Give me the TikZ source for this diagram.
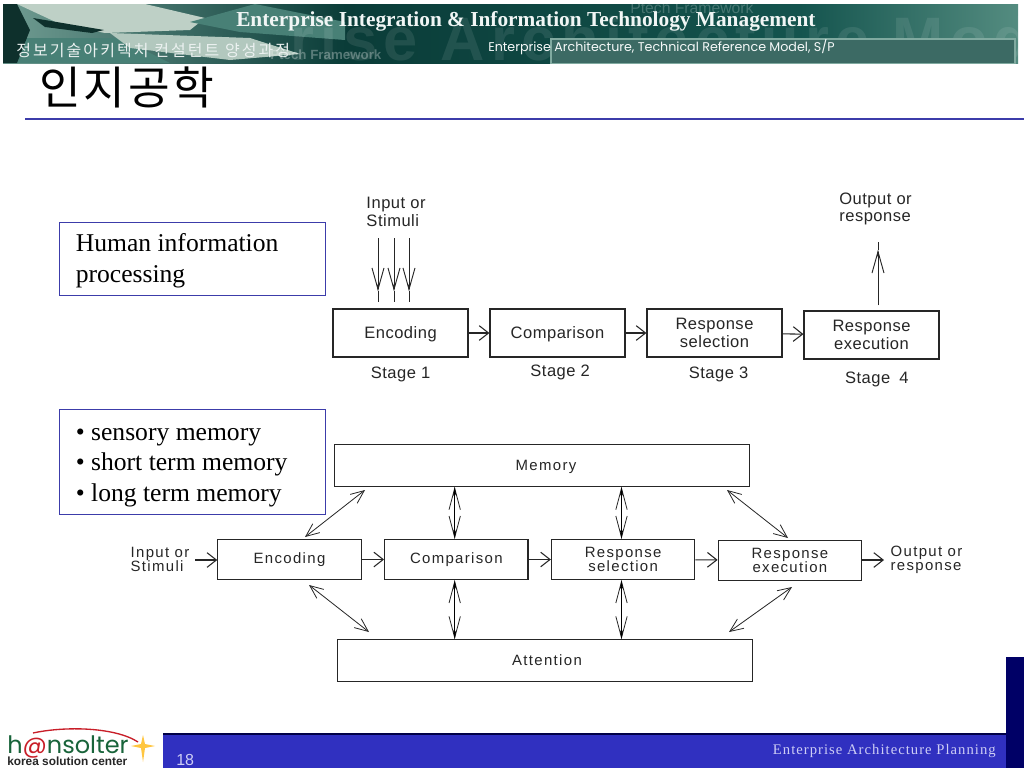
\documentclass[tikz,border=0pt]{standalone}
\usepackage{fontspec}
\setmainfont{Liberation Sans}
\newfontfamily\serifface{Liberation Serif}
\newfontfamily\kor{Noto Sans CJK KR}
\newfontfamily\roundface{Poppins}
\usetikzlibrary{arrows.meta,positioning}
\definecolor{inkgray}{RGB}{38,38,38}
\definecolor{bandblue}{RGB}{48,48,192}
\definecolor{navy}{RGB}{0,0,102}
\definecolor{framed}{RGB}{60,60,170}
\definecolor{tealdark}{RGB}{10,60,56}
\definecolor{tealmid}{RGB}{20,84,78}
\definecolor{teallight}{RGB}{84,140,128}
\definecolor{panel}{RGB}{60,106,100}
\definecolor{panelline}{RGB}{128,170,160}
\definecolor{scenepale}{RGB}{190,208,198}
\definecolor{scenemid}{RGB}{112,156,146}
\definecolor{scenelow}{RGB}{72,128,118}
\definecolor{scenedark}{RGB}{14,48,44}
\definecolor{lavender}{RGB}{205,205,245}
\definecolor{logogreen}{RGB}{24,100,58}
\definecolor{logored}{RGB}{200,30,40}
\tikzset{
  stagebox/.style={draw=inkgray, fill=white, line width=0.9pt, align=center, inner sep=0pt,
    minimum width=101.25pt, minimum height=36pt, text=inkgray,
    execute at begin node=\rule{0pt}{11.5pt},
    font=\fontsize{12.4}{13}\selectfont\addfontfeatures{LetterSpace=3}},
  flowbox/.style={draw=inkgray, fill=white, line width=0.9pt, align=center, inner sep=0pt,
    minimum width=107.5pt, minimum height=30pt, text=inkgray,
    font=\fontsize{11.2}{10.8}\selectfont\addfontfeatures{LetterSpace=9}},
  bigbox/.style={draw=inkgray, fill=white, line width=0.9pt, inner sep=0pt,
    minimum width=311pt, minimum height=31pt, text=inkgray, text height=8pt, text depth=0pt,
    font=\fontsize{11.2}{11}\selectfont\addfontfeatures{LetterSpace=9}},
  notebox/.style={draw=framed, line width=0.7pt, inner sep=0pt, minimum width=199.5pt},
  notetext/.style={anchor=west, inner sep=0pt, align=left, text=black,
    font=\serifface\fontsize{19.2}{23}\selectfont},
  label/.style={inner sep=0pt, align=left, text=inkgray,
    font=\fontsize{12.4}{13}\selectfont\addfontfeatures{LetterSpace=3}},
  smalllabel/.style={inner sep=0pt, align=left, text=inkgray,
    font=\fontsize{11.2}{10.6}\selectfont\addfontfeatures{LetterSpace=9}},
  banner/.style={anchor=base west, inner sep=0pt},
  arrow/.style={-{Straight Barb[length=7pt,width=11pt]}, line width=0.8pt, draw=inkgray},
  dart/.style={-{Stealth[length=6pt,width=2.5pt]}, line width=0.7pt, draw=inkgray},
  longarrow/.style={-{Straight Barb[length=16pt,width=9pt]}, line width=0.7pt, draw=inkgray},
  twoway/.style={{Straight Barb[length=10pt,width=8.5pt]}-{Straight Barb[length=10pt,width=8.5pt]},
    line width=0.6pt, draw=inkgray},
  updown/.style={{Stealth[length=7pt,width=2.5pt]}-{Stealth[length=7pt,width=2.5pt]}, line width=0.7pt, draw=black},
  updownbarb/.style={{Straight Barb[length=16pt,width=8.5pt]}-{Straight Barb[length=16pt,width=8.5pt]},
    line width=0.6pt, draw=inkgray}
}

\begin{document}
\begin{tikzpicture}[x=0.75pt,y=-0.75pt,node distance=15.6pt and 15.6pt]
  \useasboundingbox (0,0) rectangle (1024,768);
  \fill[white] (0,0) rectangle (1024,768);

  \begin{scope}
    \clip (3,4) rectangle (1018,63);
    \shade[left color=scenemid, right color=tealdark] (3,4) rectangle (345,63);
    \shade[left color=tealdark, right color=tealmid] (345,4) rectangle (800,63);
    \shade[left color=tealmid, right color=teallight] (800,4) rectangle (1018,63);
    \fill[scenelow] (17,38) -- (120,38) -- (170,63) -- (17,63) -- cycle;
    \fill[scenepale] (17,4) -- (145,4) -- (205,18) -- (190,30) -- (105,33) -- (60,24) -- cycle;
    \fill[scenedark] (33,18) -- (104,30) -- (92,33) -- (45,27) -- cycle;
    \fill[scenedark] (3,4) -- (17,4) -- (30,30) -- (17,63) -- (3,63) -- cycle;
    \fill[scenelow] (190,22) -- (255,4) -- (345,22) -- (345,40) -- (240,32) -- cycle;
    \fill[scenepale!85!scenemid] (110,33) -- (250,38) -- (300,54) -- (230,60) -- (130,48) -- cycle;
    \node[banner, text=white, text opacity=0.09, font=\bfseries\fontsize{46}{46}\selectfont\addfontfeatures{LetterSpace=10}] (ghosttext)
      at (290,60) {rise Architecture Mod};
    \node[banner, text=white, text opacity=0.22, font=\fontsize{11.8}{12}\selectfont] (ptechtop)
      at (630,13) {Ptech Framework};
    \node[banner, text=white, text opacity=0.3, font=\bfseries\fontsize{10}{11}\selectfont] (ptechlow)
      at (270,59) {Ptech Framework};
    \draw[panelline, line width=0.9pt, fill=panel] (551,39) rectangle (1015,64);
  \end{scope}
  \node[banner, text=white!92!teallight, font=\serifface\bfseries\fontsize{16}{17}\selectfont] (heading)
    at (236,26) {Enterprise Integration \& Information Technology Management};
  \node[banner, text=white!88!teallight, font=\kor\fontsize{12}{13}\selectfont\addfontfeatures{LetterSpace=13}] (course)
    at (16,56) {정보기술아키텍처 컨설턴트 양성과정};
  \node[banner, text=white!95!teallight, font=\roundface\fontsize{9.5}{10}\selectfont] (subject)
    at (488,51) {Enterprise Architecture, Technical Reference Model, S/P};
  \node[banner, text=black, font=\kor\fontsize{34}{36}\selectfont\addfontfeatures{LetterSpace=6}] (title)
    at (39,104) {인지공학};
  \draw[framed, line width=0.8pt] (25,119) -- (1024,119);

  \node[notebox, minimum height=54.75pt] (human) at (192,258.5) {};
  \node[notetext, right=12.75pt of human.west, yshift=-1.5pt] (humantext) {Human information\\processing};
  \node[notebox, minimum height=78.75pt] (memlist) at (192,461.5) {};
  \node[notetext, right=12.75pt of memlist.west, yshift=-4.5pt] (memtext)
    {• sensory memory\\• short term memory\\• long term memory};

  \node[stagebox] (encodeA) at (400.5,333) {Encoding};
  \node[stagebox, right=of encodeA] (compareA) {Comparison};
  \node[stagebox, right=of compareA] (selectA) {Response\\selection};
  \node[stagebox, right=of selectA, yshift=-1.5pt] (executeA) {Response\\execution};
  \node[label, below=6.5pt of encodeA] (stageone) {Stage 1};
  \node[label, below=5.5pt of compareA, xshift=2pt] (stagetwo) {Stage 2};
  \node[label, below=6.5pt of selectA, xshift=3pt] (stagethree) {Stage 3};
  \node[label, below=9pt of executeA, xshift=4pt] (stagefour) {Stage\hspace{3pt} 4};
  \node[label] (inputA) at (396,212) {Input or\\Stimuli};
  \node[label] (outputA) at (875.5,209) {Output or\\response};

  \draw[arrow] (encodeA) -- (compareA);
  \draw[arrow] (compareA) -- (selectA);
  \draw[arrow] (selectA) -- (executeA);
  \foreach \name/\xpos in {one/378,two/394,three/409}{
    \coordinate (top\name) at (\xpos,238);
    \coordinate (tip\name) at (\xpos,291);
    \coordinate (end\name) at (\xpos,302);
    \draw[longarrow] (top\name) -- (tip\name);
    \draw[dart] (top\name) -- (tip\name);
    \draw[line width=0.7pt, draw=inkgray] (tip\name) -- (end\name);
  }
  \coordinate (outbase) at (878,305);
  \coordinate (outtip) at (878,250);
  \coordinate (outend) at (878,242);
  \draw[longarrow] (outbase) -- (outtip);
  \draw[dart] (outbase) -- (outtip);
  \draw[line width=0.7pt, draw=inkgray] (outtip) -- (outend);

  \node[bigbox] (memory) at (542,465.5) {\hspace*{6pt}Memory};
  \node[flowbox] (encodeB) at (289.5,559.5) {Encoding};
  \node[flowbox, right=16.7pt of encodeB] (compareB) {Comparison};
  \node[flowbox, right=16.7pt of compareB] (selectB) {Response\\selection};
  \node[flowbox, right=16.7pt of selectB, yshift=-0.5pt] (executeB) {Response\\execution};
  \node[bigbox] (attention) at (545,660.5) {\hspace*{3pt}Attention};
  \node[smalllabel] (inputB) at (160,559) {Input or\\Stimuli};
  \node[smalllabel] (outputB) at (926.5,560) {Output or\\response};

  \coordinate (instart) at (195,560);
  \coordinate (outstop) at (884,560);
  \draw[arrow] (instart) -- (instart -| encodeB.west);
  \draw[arrow] (encodeB) -- (compareB);
  \draw[arrow] (compareB) -- (selectB);
  \draw[arrow] (selectB) -- (executeB);
  \draw[arrow] (executeB.east |- outstop) -- (outstop);

  \foreach \boxname in {compareB,selectB}{
    \coordinate (\boxname up) at ([xshift=-1.2pt]\boxname.north);
    \coordinate (\boxname down) at ([xshift=-1.2pt]\boxname.south);
    \draw[updownbarb] (\boxname up |- memory.south) -- (\boxname up);
    \draw[updown] (\boxname up |- memory.south) -- (\boxname up);
    \draw[updownbarb] (\boxname down) -- (\boxname down |- attention.north);
    \draw[updown] (\boxname down) -- (\boxname down |- attention.north);
  }
  \coordinate (memleft) at (365,490);
  \coordinate (encup) at (305,537);
  \coordinate (memright) at (727,490);
  \coordinate (exeup) at (788,538);
  \coordinate (encdown) at (309,585);
  \coordinate (attleft) at (369,632);
  \coordinate (exedown) at (792,587);
  \coordinate (attright) at (729,632);
  \draw[twoway] (encup) -- (memleft);
  \draw[twoway] (memright) -- (exeup);
  \draw[twoway] (encdown) -- (attleft);
  \draw[twoway] (exedown) -- (attright);

  \fill[bandblue] (163,734) rectangle (1006,768);
  \draw[navy!70!black, line width=0.8pt] (163,734) -- (1006,734);
  \fill[navy] (1006,657) rectangle (1024,768);
  \node[banner, text=lavender, font=\fontsize{12}{13}\selectfont] (pageno) at (176,765) {18};
  \node[anchor=base east, inner sep=0pt, text=lavender, font=\serifface\fontsize{11}{12}\selectfont\addfontfeatures{LetterSpace=7}] (footer)
    at (996,754) {Enterprise Architecture Planning};

  \draw[logored, line width=1pt] (33,733) .. controls (65,726) and (115,727) .. (138,742);
  \fill[orange!60!yellow!75!white] (143,735) -- (145,744) -- (155,746) -- (145,748) -- (143,762) -- (141,748) -- (131,746) -- (141,744) -- cycle;
  \node[banner, text=logogreen, font=\roundface\fontsize{18}{19}\selectfont] (brand)
    at (7,753) {h\textcolor{logored}{@}nsolter};
  \node[banner, text=black!85, font=\bfseries\fontsize{8.9}{9}\selectfont] (brandline)
    at (7,765) {korea solution center};
\end{tikzpicture}
\end{document}
